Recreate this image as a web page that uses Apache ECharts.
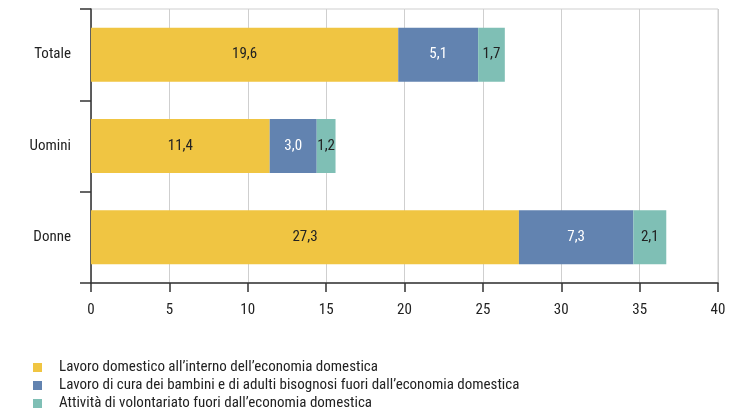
<!DOCTYPE html>
<html lang="it">

<head>
  <meta charset="UTF-8">
  <title>Lavoro non remunerato</title>
  <style>
    html, body { margin: 0; padding: 0; background: #fff; }
  </style>
</head>

<body>
  <div id="main" style="width: 745px;height:419px;"></div>

  <script src="https://cdn.jsdelivr.net/npm/echarts@6/dist/echarts.min.js"></script>
  <script>

  // categorie dal basso verso l'alto
  const categories = ['Donne', 'Uomini', 'Totale'];
  const domestico = [27.3, 11.4, 19.6];
  const cura = [7.3, 3.0, 5.1];
  const volontariato = [2.1, 1.2, 1.7];
  const seriesNames = [
    'Lavoro domestico all\u2019interno dell\u2019economia domestica',
    'Lavoro di cura dei bambini e di adulti bisognosi fuori dall\u2019economia domestica',
    'Attivit\u00e0 di volontariato fuori dall\u2019economia domestica'
  ];

  const font = '"Liberation Sans Narrow", "Roboto Condensed", Roboto, sans-serif';
  const fmt = p => p.value.toFixed(1).replace('.', ',');

  function bar(name, data, color, labelColor) {
    return {
      name: name,
      type: 'bar',
      stack: 'tot',
      data: data,
      barWidth: 54,
      itemStyle: { color: color },
      label: {
        show: true,
        position: 'inside',
        color: labelColor,
        fontFamily: font,
        fontSize: 15,
        formatter: fmt
      }
    };
  }

  let myChart = echarts.init(document.getElementById('main'));
  let option = {
    animation: false,
    textStyle: { fontFamily: font },
    grid: {
      left: 91, right: 27, top: 9, bottom: 136,
      show: true, borderColor: '#cfcfcf', borderWidth: 1
    },
    legend: {
      orient: 'vertical',
      left: 28,
      top: 355,
      itemWidth: 9,
      itemHeight: 9,
      itemGap: 3,
      icon: 'rect',
      textStyle: { fontFamily: font, fontSize: 15, color: '#222', padding: [0, 0, 0, 12] },
      data: seriesNames
    },
    xAxis: {
      type: 'value',
      min: 0,
      max: 40,
      interval: 5,
      axisLine: { show: true, lineStyle: { color: '#333', width: 1.5 } },
      axisTick: { show: true, length: 9, lineStyle: { color: '#333', width: 1.5 } },
      axisLabel: { color: '#222', fontFamily: font, fontSize: 15, margin: 20 },
      splitLine: { show: true, lineStyle: { color: '#cfcfcf', width: 1 } }
    },
    yAxis: {
      type: 'category',
      data: categories,
      axisLine: { show: true, lineStyle: { color: '#333', width: 1.5 } },
      axisTick: { show: true, inside: false, length: 11, lineStyle: { color: '#333', width: 1.5 } },
      axisLabel: { color: '#222', fontFamily: font, fontSize: 15, margin: 20 },
      splitLine: { show: false }
    },
    series: [
      bar(seriesNames[0], domestico, '#F0C542', '#222'),
      bar(seriesNames[1], cura, '#6283B0', '#fff'),
      bar(seriesNames[2], volontariato, '#7FBFB5', '#222')
    ]
  };

  myChart.setOption(option);
  </script>
</body>

</html>
